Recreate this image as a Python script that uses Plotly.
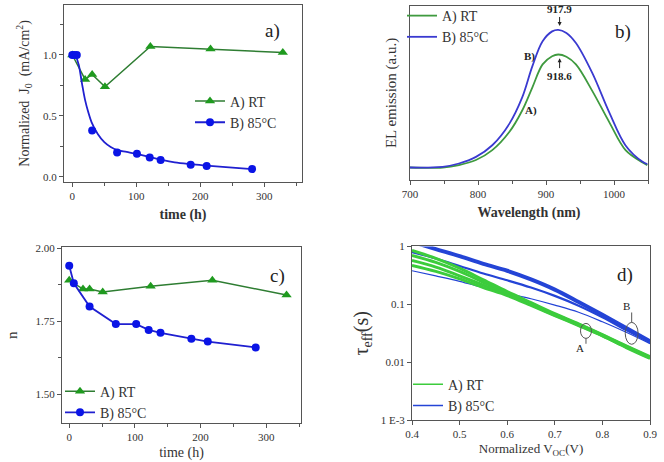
import plotly.graph_objects as go

# ---------------- data ----------------
# panel a: normalized J0 vs time
t_rt_a = [0, 20, 31, 51, 122, 216, 329]
j0_rt = [1.00, 0.80, 0.84, 0.74, 1.07, 1.05, 1.02]
t_85_a = [0, 3, 7, 31, 70, 101, 121, 138, 185, 210, 281]
j0_85 = [1.00, 1.00, 1.00, 0.38, 0.20, 0.19, 0.16, 0.14, 0.10, 0.09, 0.065]
t_fit_a = [5, 10, 15, 20, 25, 30, 40, 50, 60, 70, 85, 100, 120, 140, 160, 185, 210, 240, 281]
j0_fit = [1.00, 0.92, 0.77, 0.63, 0.53, 0.45, 0.35, 0.285, 0.245, 0.22, 0.205, 0.19, 0.165, 0.14, 0.12, 0.105, 0.093, 0.08, 0.065]

# panel b: EL emission spectra
wl = [700, 748, 772, 797, 821, 846, 865, 880, 895, 909, 918, 930, 944, 968, 993, 1017, 1042, 1049]
el_rt = [7.1, 7.1, 8.5, 11.4, 17.1, 27.5, 39.9, 53.2, 66.4, 71.1, 72.1, 70.8, 66.4, 51.2, 33.2, 17.1, 10.0, 8.5]
el_85 = [7.1, 7.5, 9.4, 13.2, 19.9, 32.2, 47.4, 65.4, 79.7, 85.4, 86.3, 84.5, 78.7, 61.5, 38.8, 19.8, 10.4, 9.1]

# panel c: ideality factor n vs time
t_rt_c = [0, 21, 31, 51, 124, 218, 331]
n_rt = [1.89, 1.86, 1.86, 1.85, 1.87, 1.89, 1.84]
t_85_c = [0, 7, 31, 71, 102, 121, 139, 186, 211, 284]
n_85 = [1.94, 1.88, 1.80, 1.74, 1.74, 1.72, 1.71, 1.69, 1.68, 1.66]

# panel d: effective lifetime vs normalized Voc
voc = [0.40, 0.45, 0.50, 0.55, 0.60, 0.65, 0.70, 0.75, 0.80, 0.85, 0.90]
tau_rt = [
    [0.85, 0.62, 0.42, 0.265, 0.166, 0.107, 0.069, 0.046, 0.030, 0.0192, 0.0125],
    [0.70, 0.53, 0.37, 0.24, 0.157, 0.103, 0.067, 0.045, 0.0295, 0.0188, 0.0122],
    [0.57, 0.44, 0.31, 0.215, 0.149, 0.099, 0.065, 0.044, 0.029, 0.0184, 0.0119],
    [0.47, 0.37, 0.275, 0.195, 0.142, 0.096, 0.064, 0.043, 0.0285, 0.018, 0.0117],
]
tau_85 = [
    [1.20, 0.90, 0.68, 0.50, 0.38, 0.27, 0.18, 0.11, 0.066, 0.039, 0.023],
    [0.80, 0.62, 0.46, 0.34, 0.26, 0.195, 0.14, 0.095, 0.060, 0.036, 0.022],
    [0.38, 0.31, 0.25, 0.195, 0.155, 0.125, 0.097, 0.073, 0.050, 0.033, 0.021],
]

# ---------------- styling ----------------
FONT = "Liberation Serif, Times New Roman, serif"
AX = "#555555"
TXT = "#333333"
G_DARK = "#2e7d32"
G_MARK = "#1f9a1f"
B_LINE = "#2020d0"
B_MARK = "#0a14e6"
G_EL = "#3f9a3f"
B_EL = "#3a3ad0"
G_D = "#3ccc3c"
B_D = "#2444d6"

W, H = 664, 462


def dom_x(l, r):
    return [l / W, r / W]


def dom_y(t, b):
    return [1 - b / H, 1 - t / H]


fig = go.Figure()

# panel a
fig.add_trace(go.Scatter(x=t_rt_a, y=j0_rt, mode="lines+markers", name="A) RT",
                         line=dict(color=G_DARK, width=1.5),
                         marker=dict(symbol="triangle-up", size=9, color=G_MARK),
                         xaxis="x", yaxis="y", legend="legend"))
fig.add_trace(go.Scatter(x=t_fit_a, y=j0_fit, mode="lines", line=dict(color=B_LINE, width=1.8, shape="spline"),
                         showlegend=False, xaxis="x", yaxis="y"))
fig.add_trace(go.Scatter(x=t_85_a, y=j0_85, mode="markers", name="B) 85°C",
                         marker=dict(symbol="circle", size=8, color=B_MARK),
                         showlegend=False, xaxis="x", yaxis="y"))
fig.add_trace(go.Scatter(x=[None], y=[None], mode="lines+markers", name="B) 85°C",
                         line=dict(color=B_LINE, width=1.8),
                         marker=dict(symbol="circle", size=8, color=B_MARK),
                         xaxis="x", yaxis="y", legend="legend"))

# panel b
fig.add_trace(go.Scatter(x=wl, y=el_rt, mode="lines", name="A) RT",
                         line=dict(color=G_EL, width=1.8, shape="spline"),
                         xaxis="x2", yaxis="y2", legend="legend2"))
fig.add_trace(go.Scatter(x=wl, y=el_85, mode="lines", name="B) 85°C",
                         line=dict(color=B_EL, width=1.8, shape="spline"),
                         xaxis="x2", yaxis="y2", legend="legend2"))

# panel c
fig.add_trace(go.Scatter(x=t_rt_c, y=n_rt, mode="lines+markers", name="A) RT",
                         line=dict(color=G_DARK, width=1.5),
                         marker=dict(symbol="triangle-up", size=9, color=G_MARK),
                         xaxis="x3", yaxis="y3", legend="legend3"))
fig.add_trace(go.Scatter(x=t_85_c, y=n_85, mode="lines+markers", name="B) 85°C",
                         line=dict(color=B_LINE, width=1.8),
                         marker=dict(symbol="circle", size=8, color=B_MARK),
                         xaxis="x3", yaxis="y3", legend="legend3"))

# panel d
for i, ys in enumerate(tau_85):
    fig.add_trace(go.Scatter(x=voc, y=ys, mode="lines", name="B) 85°C",
                             line=dict(color=B_D, width=[4, 2.2, 1.2][i], shape="spline"),
                             showlegend=False, xaxis="x4", yaxis="y4"))
for i, ys in enumerate(tau_rt):
    fig.add_trace(go.Scatter(x=voc, y=ys, mode="lines", name="A) RT",
                             line=dict(color=G_D, width=3, shape="spline"),
                             showlegend=False, xaxis="x4", yaxis="y4"))
fig.add_trace(go.Scatter(x=[None], y=[None], mode="lines", name="A) RT",
                         line=dict(color=G_D, width=1.5), xaxis="x4", yaxis="y4", legend="legend4"))
fig.add_trace(go.Scatter(x=[None], y=[None], mode="lines", name="B) 85°C",
                         line=dict(color=B_D, width=1.5), xaxis="x4", yaxis="y4", legend="legend4"))

tickfont = dict(family=FONT, size=11, color=TXT)
common = dict(showline=True, linecolor=AX, linewidth=1, mirror=True, ticks="outside",
              ticklen=4, tickcolor=AX, showgrid=False, zeroline=False, tickfont=tickfont,
              automargin=False)
legfont = dict(family=FONT, size=14, color=TXT)

fig.update_layout(
    width=W, height=H, margin=dict(l=0, r=0, t=0, b=0),
    paper_bgcolor="white", plot_bgcolor="white",
    font=dict(family=FONT, color=TXT),
    xaxis=dict(domain=dom_x(64, 302), anchor="y", range=[-13, 359], tickvals=[0, 100, 200, 300],
               minor=dict(dtick=50, tick0=0, ticks="outside", ticklen=3, tickcolor=AX),
               title=dict(text="<b>time (h)</b>", font=dict(family=FONT, size=14, color=TXT), standoff=8),
               **common),
    yaxis=dict(domain=dom_y(2, 180), anchor="x", range=[-0.04, 1.41], tickvals=[0, 0.5, 1.0],
               tickformat=".1f",
               minor=dict(dtick=0.25, tick0=0, ticks="outside", ticklen=3, tickcolor=AX),
               title=dict(text="Normalized  J<sub>0</sub>  (mA/cm<sup>2</sup>)",
                          font=dict(family=FONT, size=14, color=TXT), standoff=10),
               **common),
    xaxis2=dict(domain=dom_x(410, 648), anchor="y2", range=[700, 1050], tickvals=[700, 800, 900, 1000],
                minor=dict(dtick=50, tick0=700, ticks="outside", ticklen=3, tickcolor=AX),
                title=dict(text="<b>Wavelength (nm)</b>", font=dict(family=FONT, size=14, color=TXT), standoff=8),
                **common),
    yaxis2=dict(domain=dom_y(3, 178), anchor="x2", range=[0, 100], showticklabels=False,
                title=dict(text="EL emission (a.u.)", font=dict(family=FONT, size=15, color=TXT), standoff=8),
                **{**common, "ticks": ""}),
    xaxis3=dict(domain=dom_x(62, 301), anchor="y3", range=[-11, 353], tickvals=[0, 100, 200, 300],
                minor=dict(dtick=50, tick0=0, ticks="outside", ticklen=3, tickcolor=AX),
                title=dict(text="time (h)", font=dict(family=FONT, size=14, color=TXT), standoff=4),
                **common),
    yaxis3=dict(domain=dom_y(246, 423), anchor="x3", range=[1.40, 2.003], tickvals=[1.5, 1.75, 2.0],
                tickformat=".2f",
                minor=dict(dtick=0.125, tick0=1.5, ticks="outside", ticklen=3, tickcolor=AX),
                title=dict(text="n", font=dict(family=FONT, size=15, color=TXT), standoff=14),
                **common),
    xaxis4=dict(domain=dom_x(412, 650), anchor="y4", range=[0.4, 0.9], dtick=0.1, tick0=0.4,
                tickformat=".1f",
                title=dict(text="Normalized V<sub>OC</sub>(V)", font=dict(family=FONT, size=13, color=TXT), standoff=4),
                **common),
    yaxis4=dict(domain=dom_y(245, 420), anchor="x4", type="log", range=[-3, 0],
                tickvals=[0.001, 0.01, 0.1, 1], ticktext=["1 E-3", "0.01", "0.1", "1"],
                title=dict(text="τ<sub>eff</sub>(s)", font=dict(family=FONT, size=20, color=TXT), standoff=6),
                **common),
    legend=dict(x=190 / W, y=1 - 83 / H, xanchor="left", yanchor="top", bgcolor="rgba(0,0,0,0)",
                font=legfont, tracegroupgap=0),
    legend2=dict(x=402 / W, y=1 + 3 / H, xanchor="left", yanchor="top", bgcolor="rgba(0,0,0,0)",
                 font=legfont),
    legend3=dict(x=60 / W, y=1 - 375 / H, xanchor="left", yanchor="top", bgcolor="rgba(0,0,0,0)",
                 font=legfont),
    legend4=dict(x=408 / W, y=1 - 368 / H, xanchor="left", yanchor="top", bgcolor="rgba(0,0,0,0)",
                 font=legfont),
)

ann_font = dict(family=FONT, size=19, color="#222222")
small = dict(family=FONT, size=11, color="#222222")
annotations = [
    dict(text="a)", xref="x domain", yref="y domain", x=0.915, y=0.925, showarrow=False, font=ann_font),
    dict(text="b)", xref="x2 domain", yref="y2 domain", x=0.935, y=0.925, showarrow=False, font=ann_font),
    dict(text="c)", xref="x3 domain", yref="y3 domain", x=0.94, y=0.91, showarrow=False, font=ann_font),
    dict(text="d)", xref="x4 domain", yref="y4 domain", x=0.935, y=0.91, showarrow=False, font=ann_font),
    # panel b labels
    dict(text="<b>917.9</b>", xref="x2", yref="y2", x=920, y=88.5, ax=0, ay=-9, showarrow=True,
         arrowhead=2, arrowsize=0.8, arrowwidth=1, arrowcolor="#222", yanchor="bottom", font=small),
    dict(text="<b>918.6</b>", xref="x2", yref="y2", x=920, y=70, ax=0, ay=10, showarrow=True,
         arrowhead=2, arrowsize=0.8, arrowwidth=1, arrowcolor="#222", yanchor="top", font=small),
    dict(text="<b>B)</b>", xref="x2", yref="y2", x=875, y=71, showarrow=False, font=small),
    dict(text="<b>A)</b>", xref="x2", yref="y2", x=878, y=40, showarrow=False, font=small),
    # panel d labels
    dict(text="A", xref="x4 domain", yref="y4 domain", x=0.733, y=0.414, showarrow=False, font=small),
    dict(text="B", xref="x4 domain", yref="y4 domain", x=0.923, y=0.655, showarrow=False, font=small),
]
fig.update_layout(annotations=annotations)

shapes = [
    dict(type="circle", xref="x4 domain", yref="y4 domain", x0=0.708, x1=0.754, y0=0.471, y1=0.557,
         line=dict(color="#555", width=1)),
    dict(type="line", xref="x4 domain", yref="y4 domain", x0=0.731, x1=0.731, y0=0.471, y1=0.44,
         line=dict(color="#555", width=1)),
    dict(type="circle", xref="x4 domain", yref="y4 domain", x0=0.896, x1=0.950, y0=0.437, y1=0.563,
         line=dict(color="#555", width=1)),
    dict(type="line", xref="x4 domain", yref="y4 domain", x0=0.923, x1=0.923, y0=0.563, y1=0.62,
         line=dict(color="#555", width=1)),
]
fig.update_layout(shapes=shapes)

fig.write_html("out.html", config={"displayModeBar": False},
               post_script="document.body.style.margin='0px';document.body.style.overflow='hidden';")
